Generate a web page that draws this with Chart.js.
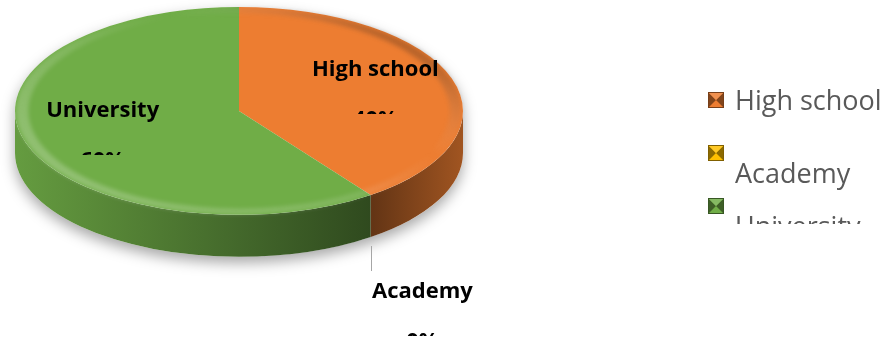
<!DOCTYPE html>
<html>
<head>
<meta charset="utf-8">
<script src="https://cdn.jsdelivr.net/npm/chart.js@4/dist/chart.umd.min.js"></script>
<style>
  html, body { margin: 0; padding: 0; background: #fff; }
  #wrap { width: 889px; height: 343px; position: relative; }
</style>
</head>
<body>
<div id="wrap"><canvas id="c" width="889" height="343"></canvas></div>
<script>
// Education level shares
const categories = ['High school', 'Academy', 'University'];
const shares = [40, 0, 60];
const sliceColors = ['#ED7D31', '#FFC000', '#70AD47'];

const total = shares.reduce((a, b) => a + b, 0);
const percentText = shares.map(v => Math.round(v / total * 100) + '%');

function rgbOf(hex) {
  const n = parseInt(hex.slice(1), 16);
  return [n >> 16 & 255, n >> 8 & 255, n & 255];
}
function shade(hex, f, a = 1) {
  const c = v => Math.max(0, Math.min(255, Math.round(f >= 1 ? v + (255 - v) * (f - 1) : v * f)));
  const [r, g, b] = rgbOf(hex);
  return `rgba(${c(r)},${c(g)},${c(b)},${a})`;
}

// Tilted pie: squashes the flat pie into an ellipse and adds a front wall
const pie3d = {
  id: 'pie3d',
  beforeDatasetsDraw(chart, _args, o) {
    const { ctx, chartArea: ca } = chart;
    const arcs = chart.getDatasetMeta(0).data;
    const { x: cx, y: cy, outerRadius: r } = arcs[0];
    const rx = ca.width / 2, ry = rx * o.tilt;
    const g = { cx, cy, r, rx, ry, ex: (ca.left + ca.right) / 2, ey: ca.top + ry };
    g.sx = rx / r; g.sy = ry / r; g.d = o.depth / g.sy;
    chart.$pie = g;

    ctx.save();
    ctx.translate(g.ex, g.ey);
    ctx.scale(g.sx, g.sy);
    ctx.translate(-cx, -cy);

    // soft drop shadow under the whole disc
    ctx.save();
    ctx.shadowColor = o.shadowColor;
    ctx.shadowBlur = 14;
    ctx.shadowOffsetY = 6;
    ctx.beginPath();
    ctx.arc(cx, cy, r, Math.PI, 2 * Math.PI);
    ctx.arc(cx, cy + g.d, r, 0, Math.PI);
    ctx.closePath();
    ctx.fillStyle = '#fff';
    ctx.fill();
    ctx.restore();

    // front walls of each slice
    arcs.forEach((arc) => {
      const s0 = arc.startAngle, e0 = arc.endAngle;
      if (e0 - s0 <= 0) return;
      const base = arc.options.backgroundColor;
      for (let k = -1; k <= 1; k++) {
        const s = Math.max(s0, k * 2 * Math.PI), e = Math.min(e0, k * 2 * Math.PI + Math.PI);
        if (e <= s) continue;
        const grad = ctx.createLinearGradient(cx - r, 0, cx + r, 0);
        o.wallShade.forEach(([p, f]) => grad.addColorStop(p, shade(base, f)));
        ctx.beginPath();
        ctx.arc(cx, cy, r, s, e);
        ctx.arc(cx, cy + g.d, r, e, s, true);
        ctx.closePath();
        ctx.fillStyle = grad;
        ctx.fill();
      }
    });
  },
  afterDatasetsDraw(chart, _args, o) {
    const { ctx } = chart;
    const g = chart.$pie;
    const { cx, cy, r } = g;

    // bevelled rim of the top face: lit at the front left, dim at the back right
    ctx.save();
    ctx.filter = 'blur(2px)';
    ctx.beginPath();
    ctx.arc(cx, cy, r * 0.995, 0, 2 * Math.PI);
    ctx.arc(cx, cy, r * 0.94, 0, 2 * Math.PI, true);
    const rim = ctx.createLinearGradient(cx - r * 0.6, cy + r, cx + r, cy - r * 0.4);
    rim.addColorStop(0, 'rgba(255,255,255,0.26)');
    rim.addColorStop(0.45, 'rgba(255,255,255,0.12)');
    rim.addColorStop(0.7, 'rgba(255,255,255,0)');
    rim.addColorStop(1, 'rgba(0,0,0,0.26)');
    ctx.fillStyle = rim;
    ctx.fill('evenodd');
    ctx.restore();
    ctx.restore(); // leave the tilted space

    const toScreen = (px, py) => [g.ex + (px - cx) * g.sx, g.ey + (py - cy) * g.sy];
    const arcs = chart.getDatasetMeta(0).data;
    const labels = chart.data.labels;
    ctx.save();
    ctx.font = o.labelFont;
    ctx.fillStyle = o.labelColor;
    ctx.textBaseline = 'alphabetic';
    arcs.forEach((arc, i) => {
      const lines = [labels[i], '', percentText[i]];
      let x, y;
      if (arc.endAngle - arc.startAngle > 0) {
        const m = (arc.startAngle + arc.endAngle) / 2;
        const [ax, ay] = toScreen(cx + o.labelRadius * r * Math.cos(m), cy + o.labelRadius * r * Math.sin(m));
        x = ax; y = ay - 14.5;
      } else {
        // empty slice: label hangs outside on a leader line
        const a = arc.startAngle;
        const [lx, ly] = toScreen(cx + r * Math.cos(a), cy + r * Math.sin(a));
        const top = ly + o.depth + 9;
        ctx.save();
        ctx.strokeStyle = '#a6a6a6';
        ctx.lineWidth = 1;
        ctx.beginPath();
        ctx.moveTo(Math.round(lx) + 0.5, top);
        ctx.lineTo(Math.round(lx) + 0.5, top + 25);
        ctx.stroke();
        ctx.restore();
        x = Math.round(lx) + ctx.measureText(labels[i]).width / 2 + 1;
        y = top + 25 + 27;
      }
      ctx.save();
      ctx.beginPath();
      ctx.rect(x - 120, y - 25, 240, 63);
      ctx.clip();
      ctx.textAlign = 'center';
      lines.forEach((t, j) => ctx.fillText(t, x, y + j * o.lineHeight));
      ctx.restore();
    });
    ctx.restore();
  }
};

// Legend with bevelled swatches
const bevelLegend = {
  id: 'bevelLegend',
  afterDraw(chart, _args, o) {
    const { ctx } = chart;
    const labels = chart.data.labels;
    const colors = chart.data.datasets[0].backgroundColor;
    ctx.save();
    ctx.beginPath();
    ctx.rect(o.x - 5, 0, chart.width - o.x + 5, o.clipBottom);
    ctx.clip();
    ctx.font = o.font;
    ctx.fillStyle = o.color;
    ctx.textBaseline = 'alphabetic';
    labels.forEach((t, i) => {
      const bx = o.x, by = o.y + i * o.rowGap, s = o.box;
      const c = colors[i];
      ctx.fillStyle = c;
      ctx.fillRect(bx, by, s, s);
      // left / right facets darker, top facet lighter
      ctx.fillStyle = shade(c, 0.55);
      ctx.beginPath(); ctx.moveTo(bx, by); ctx.lineTo(bx + s / 2, by + s / 2); ctx.lineTo(bx, by + s); ctx.closePath(); ctx.fill();
      ctx.beginPath(); ctx.moveTo(bx + s, by); ctx.lineTo(bx + s / 2, by + s / 2); ctx.lineTo(bx + s, by + s); ctx.closePath(); ctx.fill();
      ctx.fillStyle = shade(c, 1.15);
      ctx.beginPath(); ctx.moveTo(bx, by); ctx.lineTo(bx + s / 2, by + s / 2); ctx.lineTo(bx + s, by); ctx.closePath(); ctx.fill();
      ctx.strokeStyle = shade(c, 0.5);
      ctx.lineWidth = 1;
      ctx.strokeRect(bx + 0.5, by + 0.5, s - 1, s - 1);
      ctx.fillStyle = o.color;
      ctx.fillText(t, o.textX, by + (o.wrap[i] ? 38 : 18));
    });
    ctx.restore();
  }
};

function build() {
  new Chart(document.getElementById('c'), {
    type: 'pie',
    data: {
      labels: categories,
      datasets: [{
        data: shares,
        backgroundColor: sliceColors,
        borderWidth: 0,
        clip: false
      }]
    },
    options: {
      responsive: false,
      animation: false,
      events: [],
      layout: { padding: { left: 15, right: 426, top: 7, bottom: 10 } },
      plugins: {
        legend: { display: false },
        tooltip: { enabled: false },
        pie3d: {
          tilt: 0.464,
          depth: 42,
          labelRadius: 0.64,
          shadowColor: 'rgba(0,0,0,0.35)',
          wallShade: [[0, 0.9], [0.25, 0.75], [0.5, 0.6], [0.8, 0.42], [0.86, 0.5], [1, 0.68]],
          labelFont: 'bold 22px "Open Sans"',
          labelColor: '#000',
          lineHeight: 25
        },
        bevelLegend: {
          x: 708, y: 92, rowGap: 53, box: 16, textX: 735,
          wrap: [false, true, true],
          clipBottom: 224,
          font: '27px "Open Sans"',
          color: '#595959'
        }
      }
    },
    plugins: [pie3d, bevelLegend]
  });
}

Promise.all([
  document.fonts.load('27px "Open Sans"'),
  document.fonts.load('bold 22px "Open Sans"')
]).then(build, build);
</script>
</body>
</html>
